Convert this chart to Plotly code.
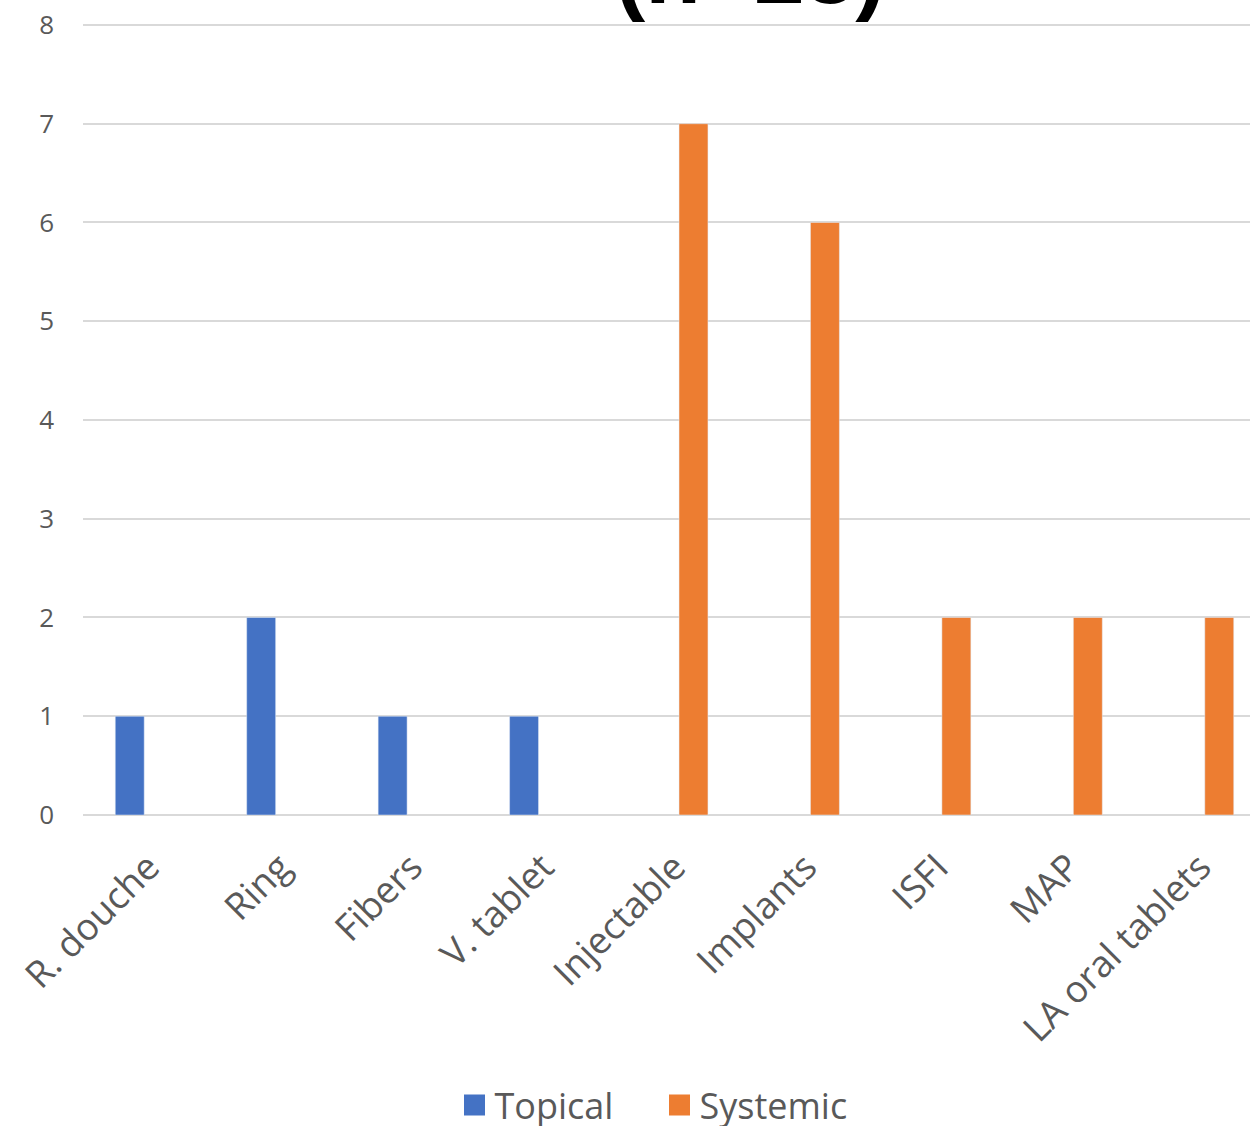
import plotly.graph_objects as go

categories = ["R. douche", "Ring", "Fibers", "V. tablet", "Injectable", "Implants", "ISFI", "MAP", "LA oral tablets"]
topical = [1, 2, 1, 1, None, None, None, None, None]
systemic = [None, None, None, None, 7, 6, 2, 2, 2]
y_ticks = [0, 1, 2, 3, 4, 5, 6, 7, 8]
title_text = "(n=23)"

W, H = 1250, 1126
L, R, T, B = 83, 0, 23, 311
plot_h = H - T - B
plot_w = W - L - R

fig = go.Figure()
fig.add_trace(go.Bar(name="Topical", x=categories, y=topical, marker_color="#4472C4", showlegend=False))
fig.add_trace(go.Bar(name="Systemic", x=categories, y=systemic, marker_color="#ED7D31", showlegend=False))
# legend entries with larger square keys
fig.add_trace(go.Scatter(name="Topical", x=[None], y=[None], mode="markers",
                         marker=dict(symbol="square", size=24, color="#4472C4",
                                     line=dict(width=5, color="#4472C4"))))
fig.add_trace(go.Scatter(name="Systemic", x=[None], y=[None], mode="markers",
                         marker=dict(symbol="square", size=24, color="#ED7D31",
                                     line=dict(width=5, color="#ED7D31"))))

fig.update_layout(
    width=W, height=H,
    margin=dict(l=L, r=R, t=T, b=B, autoexpand=False),
    paper_bgcolor="white", plot_bgcolor="white",
    barmode="group", bargap=0.422, bargroupgap=0.238,
    font=dict(family="Open Sans", color="#595959"),
    showlegend=True,
    legend=dict(orientation="h", x=0.5 - 7 / plot_w, xanchor="center", y=-290 / plot_h, yanchor="middle",
                font=dict(size=36, color="#595959"), itemsizing="trace", traceorder="normal",
                entrywidth=160, entrywidthmode="pixels"),
)
fig.update_xaxes(
    range=[-0.5, 8.5 - 16 / 131.5], tickangle=-45, tickfont=dict(size=37, color="#595959"),
    showgrid=False, showline=False, ticks="", zeroline=False, ticklabelstandoff=22,
)
fig.update_yaxes(
    range=[0, 8.02], tickvals=y_ticks, tickfont=dict(size=26, color="#595959"),
    showgrid=True, gridcolor="#d9d9d9", gridwidth=2, zeroline=True, zerolinecolor="#d9d9d9",
    zerolinewidth=2, showline=False, ticks="", ticklabelstandoff=28,
)
fig.add_annotation(
    text="<b>" + title_text + "</b>", xref="paper", yref="paper",
    x=(750 - L) / plot_w, xanchor="center", y=(H - B - 24) / plot_h, yanchor="bottom",
    showarrow=False, font=dict(family="Liberation Sans", size=91, color="black"),
)
fig.write_html("out.html", config={"displayModeBar": False},
               post_script="document.body.style.margin='0';document.body.style.overflow='hidden';")
